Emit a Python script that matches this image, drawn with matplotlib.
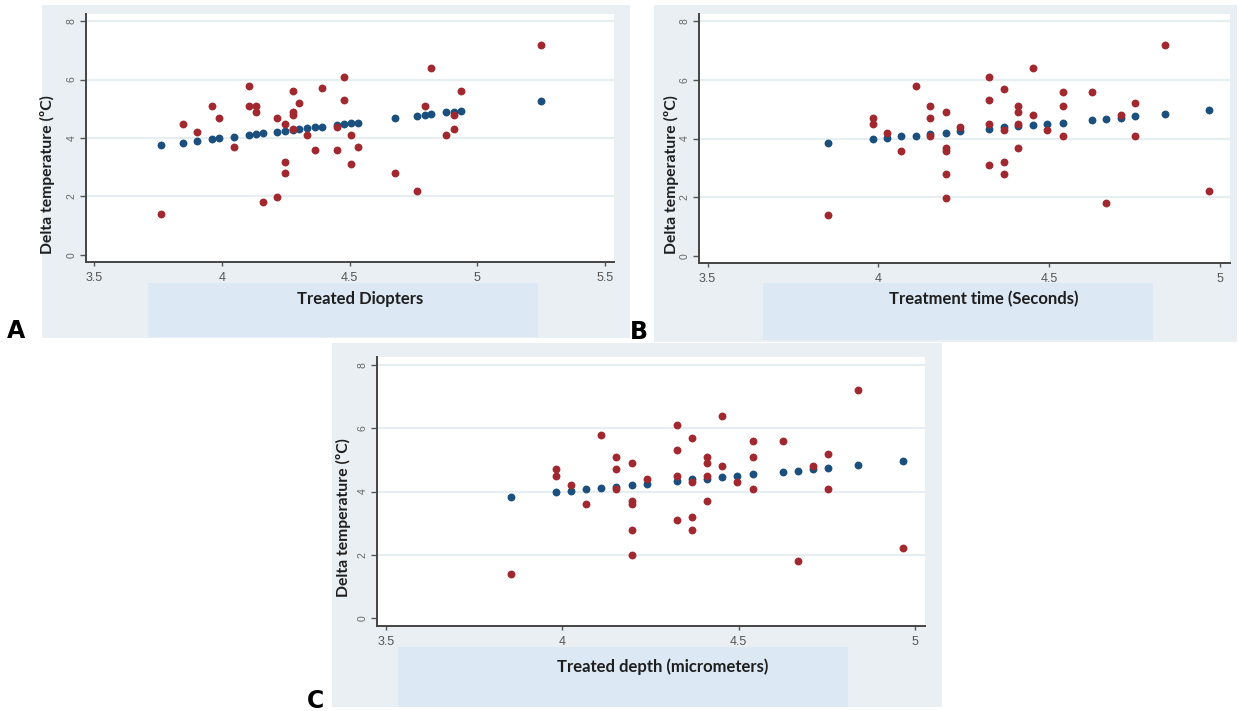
import matplotlib
matplotlib.use("Agg")
from matplotlib import pyplot as plt
from matplotlib.patches import Rectangle

# Panel A: Treated Diopters
a_x = [3.76, 3.845, 3.902, 3.961, 3.988, 4.047, 4.104, 4.104, 4.132, 4.132,
       4.162, 4.217, 4.217, 4.247, 4.247, 4.247, 4.276, 4.276, 4.276, 4.276,
       4.303, 4.333, 4.363, 4.391, 4.449, 4.449, 4.476, 4.476, 4.505, 4.505,
       4.534, 4.678, 4.763, 4.793, 4.819, 4.878, 4.907, 4.907, 4.935, 5.249]
a_red = [1.40, 4.49, 4.19, 5.09, 4.70, 3.69, 5.79, 5.09, 5.09, 4.90,
         1.80, 4.70, 1.99, 4.49, 3.19, 2.79, 5.60, 4.90, 4.80, 4.30,
         5.20, 4.09, 3.59, 5.70, 4.39, 3.59, 6.10, 5.30, 4.09, 3.10,
         3.69, 2.79, 2.20, 5.09, 6.39, 4.09, 4.80, 4.30, 5.60, 7.19]
a_fit_x = [3.76, 3.845, 3.902, 3.961, 3.988, 4.047, 4.104, 4.132, 4.162, 4.217,
           4.247, 4.276, 4.303, 4.333, 4.363, 4.391, 4.449, 4.476, 4.505, 4.534,
           4.678, 4.763, 4.793, 4.819, 4.878, 4.907, 4.935, 5.249]
a_fit = [3.76, 3.84, 3.90, 3.96, 3.99, 4.05, 4.11, 4.13, 4.16, 4.22,
         4.24, 4.28, 4.30, 4.33, 4.36, 4.39, 4.45, 4.47, 4.50, 4.53,
         4.67, 4.76, 4.79, 4.82, 4.88, 4.90, 4.93, 5.25]

# Panel B: Treatment time (Seconds)
b_x = [3.853, 3.983, 3.983, 4.024, 4.067, 4.110, 4.152, 4.152, 4.152, 4.197,
       4.197, 4.197, 4.197, 4.197, 4.239, 4.325, 4.325, 4.325, 4.325, 4.367,
       4.367, 4.367, 4.367, 4.410, 4.410, 4.410, 4.410, 4.452, 4.452, 4.494,
       4.540, 4.540, 4.540, 4.624, 4.667, 4.710, 4.752, 4.752, 4.839, 4.967]
b_red = [1.40, 4.70, 4.49, 4.19, 3.59, 5.80, 5.09, 4.70, 4.09, 4.90,
         3.69, 3.59, 2.79, 1.99, 4.39, 6.10, 5.30, 4.49, 3.10, 5.70,
         4.30, 3.19, 2.79, 5.09, 4.90, 4.49, 3.69, 6.39, 4.80, 4.30,
         5.60, 5.09, 4.09, 5.60, 1.80, 4.80, 5.20, 4.09, 7.20, 2.20]
b_fit_x = [3.853, 3.983, 4.024, 4.067, 4.110, 4.152, 4.197, 4.239, 4.325, 4.367,
           4.410, 4.452, 4.494, 4.540, 4.624, 4.667, 4.710, 4.752, 4.839, 4.967]
b_fit = [3.84, 3.97, 4.02, 4.07, 4.10, 4.15, 4.19, 4.24, 4.33, 4.38,
         4.41, 4.46, 4.49, 4.54, 4.62, 4.66, 4.71, 4.75, 4.83, 4.97]

# Panel C: Treated depth (micrometers) - same points as B
c_x = b_x
c_red = b_red
c_fit_x = b_fit_x
c_fit = b_fit

W, H = 1239, 711
RED = '#a2282f'
BLUE = '#1b4f7d'
PANEL_BG = '#e9eff2'
LABEL_BG = '#dce8f4'
GRID = '#e6eef2'

fig = plt.figure(figsize=(W / 100, H / 100), dpi=100)
fig.patch.set_facecolor('white')


def px_rect(x0, y0, x1, y1, color, z):
    fig.patches.append(Rectangle((x0 / W, 1 - y1 / H), (x1 - x0) / W, (y1 - y0) / H,
                                 transform=fig.transFigure, facecolor=color,
                                 edgecolor='none', zorder=z))


def make_panel(box, bg, lab_box, xlim, ylim, xticks, xlabels, fx, fy, rx, ry,
               xlabel, xlab_pos, ylab_pos, letter, letter_pos):
    px_rect(*bg, PANEL_BG, -3)
    px_rect(*lab_box, LABEL_BG, -2)
    x0, y0, x1, y1 = box
    ax = fig.add_axes([x0 / W, 1 - y1 / H, (x1 - x0) / W, (y1 - y0) / H])
    ax.set_facecolor('white')
    ax.set_zorder(1)
    ax.scatter(fx, fy, s=32, color=BLUE, linewidths=0, zorder=3)
    ax.scatter(rx, ry, s=32, color=RED, linewidths=0, zorder=4)
    ax.set_xlim(*xlim)
    ax.set_ylim(*ylim)
    ax.set_xticks(xticks)
    ax.set_xticklabels(xlabels)
    ax.set_yticks([0, 2, 4, 6, 8])
    ax.set_yticklabels(['0', '2', '4', '6', '8'], rotation=90, va='center')
    for yv in [2, 4, 6, 8]:
        ax.axhline(yv, color=GRID, lw=1.6, zorder=1)
    for s in ['top', 'right']:
        ax.spines[s].set_visible(False)
    for s in ['left', 'bottom']:
        ax.spines[s].set_color('#444444')
        ax.spines[s].set_linewidth(1.4)
    ax.tick_params(axis='x', length=3, width=1, color='#555555', pad=4,
                   labelsize=9, labelcolor='#555555')
    ax.tick_params(axis='y', length=4, width=1, color='#555555', pad=3,
                   labelsize=7.5, labelcolor='#666666')
    for t in ax.get_xticklabels() + ax.get_yticklabels():
        t.set_family('Liberation Sans')
    fig.text(xlab_pos[0] / W, 1 - xlab_pos[1] / H, xlabel, ha='center', va='center',
             fontsize=12, fontweight='bold', family='Lato', color='#1e1e1e')
    fig.text(ylab_pos[0] / W, 1 - ylab_pos[1] / H, 'Delta temperature (ºC)',
             ha='center', va='center', rotation=90, fontsize=11.3,
             fontweight='bold', family='Lato', color='#1e1e1e')
    fig.text(letter_pos[0] / W, 1 - letter_pos[1] / H, letter, ha='left', va='baseline',
             fontsize=17, fontweight='bold', family='DejaVu Sans', color='black')
    return ax


make_panel((86, 14, 614, 262), (42, 5, 630, 338), (148, 283, 538, 337),
           (3.467, 5.535), (-0.24, 8.24), [3.5, 4, 4.5, 5, 5.5],
           ['3.5', '4', '4.5', '5', '5.5'], a_fit_x, a_fit, a_x, a_red,
           'Treated Diopters', (360, 299), (47, 175), 'A', (7, 338))

make_panel((699, 14, 1230, 263), (654, 5, 1237, 342), (763, 283, 1153, 340),
           (3.475, 5.029), (-0.24, 8.24), [3.5, 4, 4.5, 5],
           ['3.5', '4', '4.5', '5'], b_fit_x, b_fit, b_x, b_red,
           'Treatment time (Seconds)', (984, 299), (671, 175), 'B', (630, 339))

make_panel((377, 357, 925, 626), (332, 343, 942, 707), (398, 647, 848, 707),
           (3.474, 5.028), (-0.25, 8.25), [3.5, 4, 4.5, 5],
           ['3.5', '4', '4.5', '5'], c_fit_x, c_fit, c_x, c_red,
           'Treated depth (micrometers)', (663, 667), (343, 518), 'C', (307, 708))

fig.savefig('out.png', dpi=100)
